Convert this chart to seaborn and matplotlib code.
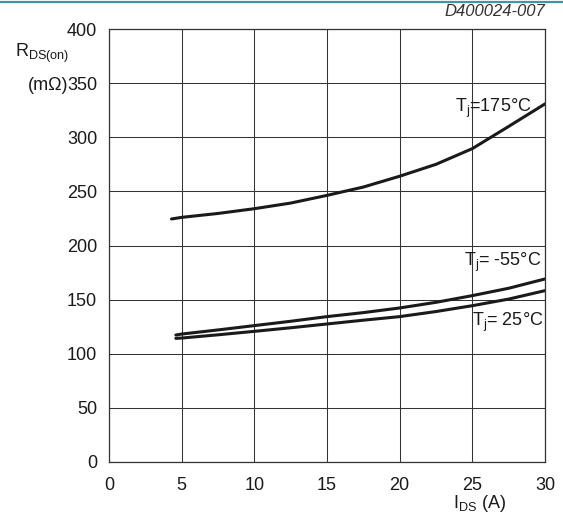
import seaborn as sns
import pandas as pd
import matplotlib.pyplot as plt
from matplotlib.lines import Line2D

# Values
ids_hi = [4.3, 5, 7.5, 10, 12.5, 15, 17.5, 20, 22.5, 25, 27.5, 30]
rds_175 = [224.5, 226, 229.6, 234, 239.2, 246.3, 254, 264, 275, 289.5, 310, 330.8]
ids_low = [4.6, 5, 7.5, 10, 12.5, 15, 17.5, 20, 22.5, 25, 27.5, 30]
rds_m55 = [117.3, 118.2, 122, 126, 130, 134.3, 138, 142.3, 147.5, 153.7, 160.5, 169.1]
rds_25 = [114.2, 114.5, 117.5, 120.7, 124, 127.5, 131, 134.3, 139, 144.4, 150.5, 158.3]

x_ticks = [0, 5, 10, 15, 20, 25, 30]
y_ticks = [0, 50, 100, 150, 200, 250, 300, 350, 400]

df = pd.concat([
    pd.DataFrame({'IDS': ids_hi, 'RDS': rds_175, 'Tj': '175'}),
    pd.DataFrame({'IDS': ids_low, 'RDS': rds_m55, 'Tj': '-55'}),
    pd.DataFrame({'IDS': ids_low, 'RDS': rds_25, 'Tj': '25'}),
])

sns.set_style('white')
plt.rcParams['font.family'] = ['Liberation Sans', 'DejaVu Sans']
plt.rcParams['mathtext.fontset'] = 'custom'
plt.rcParams['mathtext.rm'] = 'Liberation Sans'
plt.rcParams['mathtext.it'] = 'Liberation Sans:italic'

W, H = 563, 515
FS = 13
TXT = '#1a1a1a'
fig = plt.figure(figsize=(W / 100, H / 100), dpi=100)
ax = fig.add_axes([109 / W, 1 - 462 / H, 436 / W, 433 / H])

sns.lineplot(data=df, x='IDS', y='RDS', hue='Tj', palette=['#1a1a1a'] * 3,
             linewidth=2.2, legend=False, ax=ax, estimator=None, sort=True)

ax.set_xlim(0, 30)
ax.set_ylim(0, 400)
ax.set_xticks(x_ticks)
ax.set_yticks(y_ticks)
ax.set_xticklabels([str(v) for v in x_ticks], fontsize=FS)
ax.set_yticklabels([str(v) for v in y_ticks], fontsize=FS)
ax.tick_params(axis='both', length=0, colors=TXT)
ax.tick_params(axis='x', pad=11)
ax.tick_params(axis='y', pad=8.5)
ax.set_xlabel('')
ax.set_ylabel('')
ax.grid(True, color='#333333', linewidth=0.75)
for s in ax.spines.values():
    s.set_color('#333333')
    s.set_linewidth(0.9)

tkw = dict(fontsize=FS, color=TXT, va='center', ha='left')
ax.text(23.8, 327, r'T$_\mathrm{j}$=175°C', **tkw)
ax.text(24.4, 184, r'T$_\mathrm{j}$= -55°C', **tkw)
ax.text(25.0, 129, r'T$_\mathrm{j}$= 25°C', **tkw)

fig.text(15 / W, 1 - 57 / H, r'R$_\mathrm{DS(on)}$', fontsize=FS, va='baseline', ha='left', color=TXT)
fig.text(68 / W, 1 - 89.5 / H, '(mΩ)', fontsize=FS, va='baseline', ha='right', color=TXT)
fig.text(453 / W, 1 - 508.5 / H, r'I$_\mathrm{DS}$ (A)', fontsize=FS, va='baseline', ha='left', color=TXT)
fig.text(545 / W, 1 - 11 / H, 'D400024-007', fontsize=12, style='italic', va='center', ha='right', color='#333333')

fig.add_artist(Line2D([0, 1], [1 - 1.5 / H, 1 - 1.5 / H], transform=fig.transFigure,
                      color='#3f93ad', linewidth=1.6))

fig.savefig('out.png', dpi=100)
